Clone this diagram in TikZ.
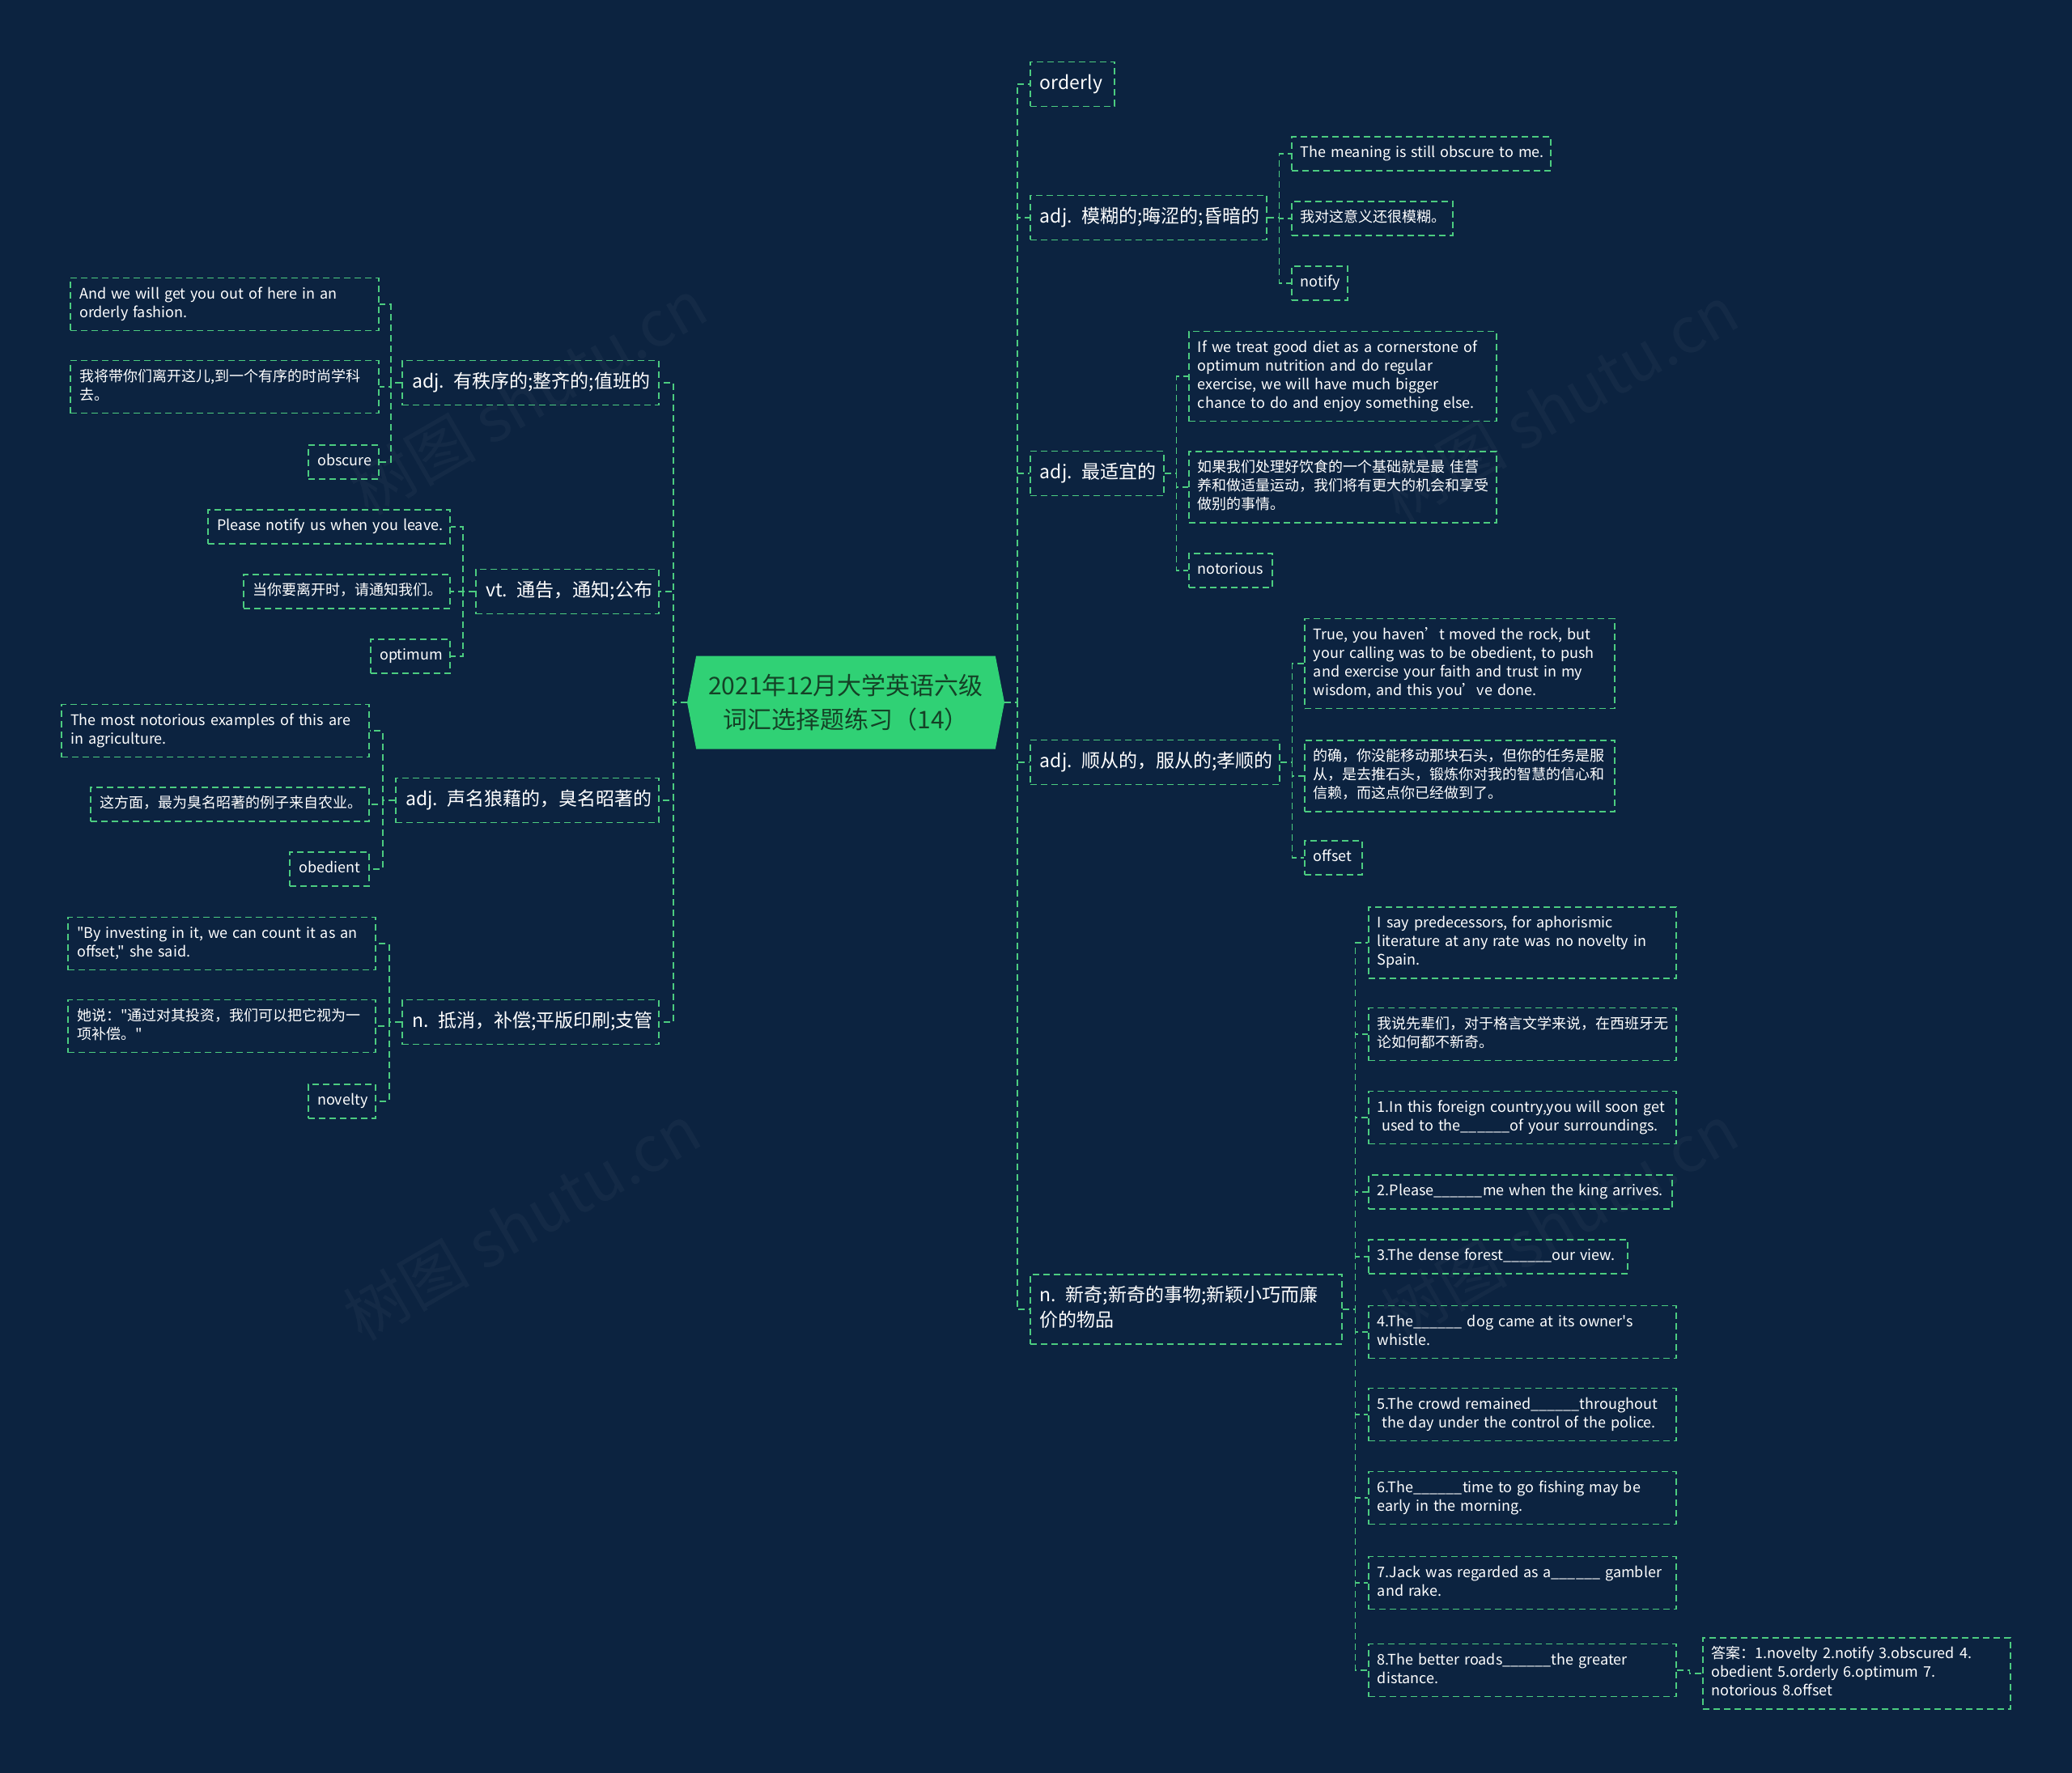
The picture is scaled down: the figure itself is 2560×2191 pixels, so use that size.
\documentclass[tikz,border=0pt]{standalone}
\usepackage{fontspec}
\setmainfont{Noto Sans CJK SC}[Ligatures=TeXOff]
\usepackage{tikz}
\usetikzlibrary{calc,shapes.symbols}
\definecolor{navy}{rgb}{0.047, 0.137, 0.251}
\definecolor{linkgreen}{rgb}{0.30, 0.80, 0.50}
\definecolor{rootgreen}{rgb}{0.19, 0.82, 0.46}
\definecolor{roottext}{rgb}{0.08, 0.26, 0.15}
\newcommand{\fillgap}{\_\_\_\_\_\_}

\begin{document}
\begin{tikzpicture}[x=1pt, y=-1pt,
    link/.style={draw=linkgreen, line width=1.8pt, dash pattern=on 8pt off 5pt},
    topic/.style={link, text=white, inner xsep=12pt, inner ysep=12pt, minimum height=54pt, align=left,
        font=\fontsize{23pt}{31pt}\selectfont,
        execute at begin node={\rightskip=0pt plus 1fil minus 100pt\strut}, execute at end node=\strut},
    leaf/.style={link, text=white, inner xsep=11pt, inner ysep=9.5pt, minimum height=41pt, align=left,
        font=\fontsize{18pt}{23pt}\selectfont,
        execute at begin node={\rightskip=0pt plus 1fil minus 100pt\strut}, execute at end node=\strut}]
    \useasboundingbox (0,0) rectangle (2560,2191);
    \fill[navy] (0,0) rectangle (2560,2191);

    \foreach \x/\y [count=\i] in {653/490, 645/1510, 1927/498, 1927/1510}
        \node(wm-\i)[rotate=30, text=white, opacity=0.035, font=\fontsize{78pt}{78pt}\selectfont] at (\x,\y) {树图 shutu.cn};

    \node(root)[signal, signal to=east and west, signal pointer angle=158, fill=rootgreen,
        text=roottext, minimum width=392pt, minimum height=115pt, align=center,
        font=\fontsize{30pt}{42pt}\selectfont] at (1045,868) {2021年12月大学英语六级\\词汇选择题练习（14）};

    % right side
    \foreach \w/\y/\txt [count=\i] in {104/104/orderly, 292/269/{adj. 模糊的;晦涩的;昏暗的}, 165/585/{adj. 最适宜的},
        308/942/{adj. 顺从的，服从的;孝顺的}, 385/1618/{n. 新奇;新奇的事物;新颖小巧而廉\\价的物品}} {
        \node(right-\i)[topic, anchor=west, text width=\w-24] at (1272,\y) {\txt};
        \draw[link] (root.east) -| ($(root.east)!.5!(right-\i.west)$) |- (right-\i.west);
    }

    \foreach \w/\y/\txt [count=\i] in {320/190/{The meaning is still obscure to me.}, 199/270/{我对这意义还很模糊。}, 69/350/notify} {
        \node(right-2-\i)[leaf, anchor=west, text width=\w-22] at (1595,\y) {\txt};
        \draw[link] (right-2.east) -| ($(right-2.east)!.5!(right-2-\i.west)$) |- (right-2-\i.west);
    }

    \foreach \w/\y/\txt [count=\i] in {
        380/465/{If we treat good diet as a cornerstone of\\optimum nutrition and do regular\\exercise, we will have much bigger\\chance to do and enjoy something else.},
        380/602/{如果我们处理好饮食的一个基础就是最 佳营\\养和做适量运动，我们将有更大的机会和享受\\做别的事情。},
        103/705/notorious} {
        \node(right-3-\i)[leaf, anchor=west, text width=\w-22] at (1468,\y) {\txt};
        \draw[link] (right-3.east) -| ($(right-3.east)!.5!(right-3-\i.west)$) |- (right-3-\i.west);
    }

    \foreach \w/\y/\txt [count=\i] in {
        383/820/{True, you haven’t moved the rock, but\\your calling was to be obedient, to push\\and exercise your faith and trust in my\\wisdom, and this you’ve done.},
        383/959/{的确，你没能移动那块石头，但你的任务是服\\从，是去推石头，锻炼你对我的智慧的信心和\\信赖，而这点你已经做到了。},
        71/1060/offset} {
        \node(right-4-\i)[leaf, anchor=west, text width=\w-22] at (1611,\y) {\txt};
        \draw[link] (right-4.east) -| ($(right-4.east)!.5!(right-4-\i.west)$) |- (right-4-\i.west);
    }

    \foreach \w/\y/\txt [count=\i] in {
        380/1165/{I say predecessors, for aphorismic\\literature at any rate was no novelty in\\Spain.},
        380/1278/{我说先辈们，对于格言文学来说，在西班牙无\\论如何都不新奇。},
        380/1381/{1.In this foreign country,you will soon get\\\hspace*{0.3em}used to the\fillgap of your surroundings.},
        375/1473/{2.Please\fillgap me when the king arrives.},
        320/1553/{3.The dense forest\fillgap our view.},
        380/1646/{4.The\fillgap\ dog came at its owner's\\whistle.},
        380/1748/{5.The crowd remained\fillgap throughout\\\hspace*{0.3em}the day under the control of the police.},
        380/1851/{6.The\fillgap time to go fishing may be\\early in the morning.},
        380/1956/{7.Jack was regarded as a\fillgap\ gambler\\and rake.},
        380/2064/{8.The better roads\fillgap the greater\\distance.}} {
        \node(right-5-\i)[leaf, anchor=west, text width=\w-22] at (1690,\y) {\txt};
        \draw[link] (right-5.east) -| ($(right-5.east)!.5!(right-5-\i.west)$) |- (right-5-\i.west);
    }

    \node(answer)[leaf, anchor=west, text width=358pt] at (2103,2068)
        {答案：1.novelty 2.notify 3.obscured 4.\\obedient 5.orderly 6.optimum 7.\\notorious 8.offset};
    \draw[link] (right-5-10.east) -| ($(right-5-10.east)!.5!(answer.west)$) |- (answer.west);

    % left side
    \foreach \w/\y/\txt [count=\i] in {317/473/{adj. 有秩序的;整齐的;值班的}, 226/731/{vt. 通告，通知;公布},
        325/989/{adj. 声名狼藉的，臭名昭著的}, 317/1263/{n. 抵消，补偿;平版印刷;支管}} {
        \node(left-\i)[topic, anchor=east, text width=\w-24] at (815,\y) {\txt};
        \draw[link] (root.west) -| ($(root.west)!.5!(left-\i.east)$) |- (left-\i.east);
    }

    \foreach \w/\y/\txt [count=\i] in {381/376/{And we will get you out of here in an\\orderly fashion.},
        381/478/{我将带你们离开这儿,到一个有序的时尚学科\\去。}, 87/571/obscure} {
        \node(left-1-\i)[leaf, anchor=east, text width=\w-22] at (469,\y) {\txt};
        \draw[link] (left-1.west) -| ($(left-1.west)!.5!(left-1-\i.east)$) |- (left-1-\i.east);
    }

    \foreach \w/\y/\txt [count=\i] in {299/651/{Please notify us when you leave.},
        255/731/{当你要离开时，请通知我们。}, 98/811/optimum} {
        \node(left-2-\i)[leaf, anchor=east, text width=\w-22] at (557,\y) {\txt};
        \draw[link] (left-2.west) -| ($(left-2.west)!.5!(left-2-\i.east)$) |- (left-2-\i.east);
    }

    \foreach \w/\y/\txt [count=\i] in {380/903/{The most notorious examples of this are\\in agriculture.},
        344/994/{这方面，最为臭名昭著的例子来自农业。}, 98/1074/obedient} {
        \node(left-3-\i)[leaf, anchor=east, text width=\w-22] at (457,\y) {\txt};
        \draw[link] (left-3.west) -| ($(left-3.west)!.5!(left-3-\i.east)$) |- (left-3-\i.east);
    }

    \foreach \w/\y/\txt [count=\i] in {380/1166/{"By investing in it, we can count it as an\\offset," she said.},
        380/1268/{她说："通过对其投资，我们可以把它视为一\\项补偿。"}, 83/1361/novelty} {
        \node(left-4-\i)[leaf, anchor=east, text width=\w-22] at (465,\y) {\txt};
        \draw[link] (left-4.west) -| ($(left-4.west)!.5!(left-4-\i.east)$) |- (left-4-\i.east);
    }
\end{tikzpicture}
\end{document}
